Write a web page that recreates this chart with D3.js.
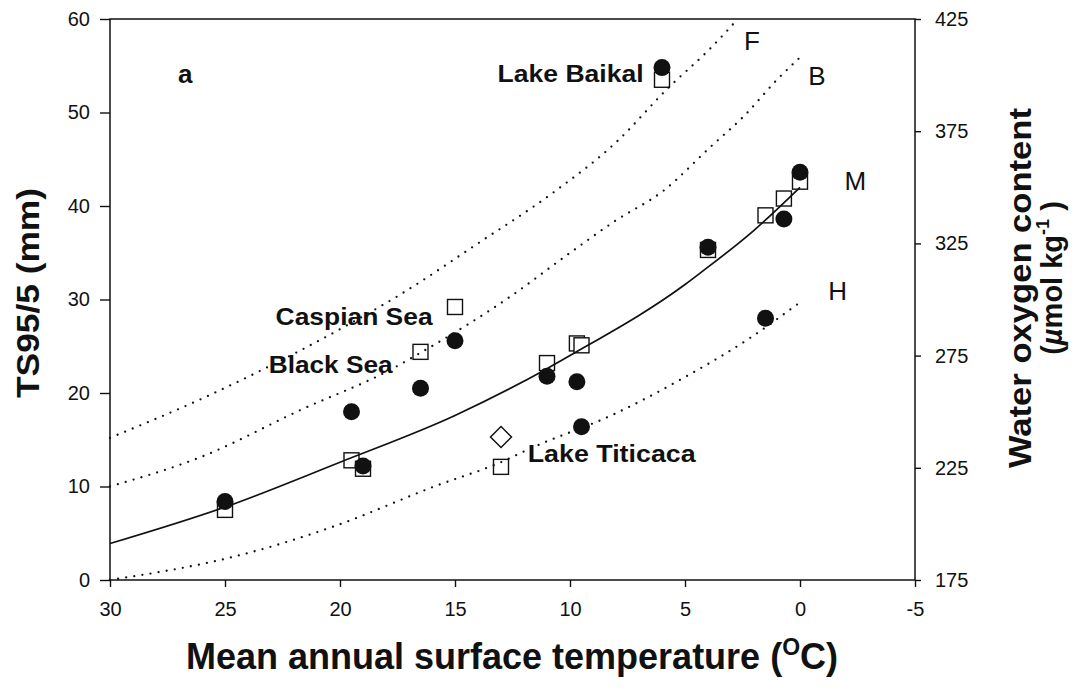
<!DOCTYPE html>
<html>
<head>
<meta charset="utf-8">
<script src="https://cdn.jsdelivr.net/npm/d3@7"></script>
<style>
  html, body { margin: 0; padding: 0; background: #fff; }
  svg { display: block; }
  text { font-family: "Liberation Sans", Arial, Helvetica, sans-serif; fill: #111; }
</style>
</head>
<body>
<svg id="chart" width="1086" height="700"></svg>
<script>
// ---------------- data ----------------
const xTicks = [30, 25, 20, 15, 10, 5, 0, -5];
const yTicks = [0, 10, 20, 30, 40, 50, 60];
const oxyTicks = [175, 225, 275, 325, 375, 425];

// open squares (temperature °C, TS95/5 mm)
const squareT = [25, 19.5, 19, 16.5, 15, 13, 11, 9.7, 9.5, 6, 4, 1.5, 0.7, 0];
const squareV = [7.5, 12.8, 11.9, 24.4, 29.2, 12.1, 23.2, 25.3, 25.1, 53.5, 35.3, 39.0, 40.8, 42.6];

// filled circles
const circleT = [25, 19.5, 19, 16.5, 15, 11, 9.7, 9.5, 6, 4, 1.5, 0.7, 0];
const circleV = [8.4, 18.0, 12.2, 20.5, 25.6, 21.8, 21.2, 16.4, 54.8, 35.6, 28.0, 38.6, 43.6];

// open diamond (Lake Titicaca)
const diamondT = [13];
const diamondV = [15.3];

// curves
const curveM_T = [30, 25, 20, 15, 11, 10, 5, 4.3, 2, 0];
const curveM_V = [3.9, 7.8, 12.6, 17.6, 22.6, 24.0, 31.6, 32.9, 37.4, 42.0];

const curveF_T = [30, 26, 22, 19.5, 17.4, 14, 10.75, 8, 5.7, 4, 2.7];
const curveF_V = [15.2, 19.4, 24.2, 27.5, 30.5, 36.0, 41.4, 46.8, 52.7, 56.6, 60];

const curveB_T = [30, 26, 21.7, 17.8, 16.5, 12.6, 10.1, 8.1, 5.9, 3.9, 2.4, 1.0, 0];
const curveB_V = [10.0, 13.2, 18.2, 22.5, 24.3, 30.3, 34.8, 38.3, 41.7, 46.3, 49.7, 53.5, 55.9];

const curveH_T = [30, 24.6, 20.3, 15.9, 13, 11.6, 8.2, 5, 2.1, 0];
const curveH_V = [0.0, 2.5, 5.7, 10.0, 12.6, 14.2, 17.6, 21.7, 26.0, 29.7];

// annotations
const lakeNames = ["Lake Baikal", "Caspian Sea", "Black Sea", "Lake Titicaca"];
const lakeT = [6.8, 22.8, 23.1, 11.84];
const lakeV = [53.3, 27.3, 22.1, 12.6];
const curveNames = ["F", "B", "M", "H"];
const curveNameT = [2.43, -0.36, -1.93, -1.23];
const curveNameV = [56.7, 52.9, 41.7, 29.9];

// ---------------- drawing ----------------
const svg = d3.select("#chart");
const x = d3.scaleLinear().domain([30, -5]).range([110, 915]);
const y = d3.scaleLinear().domain([0, 60]).range([580, 19]);
const yR = d3.scaleLinear().domain([175, 425]).range([580, 19]);

// axes
const gx = svg.append("g").attr("transform", "translate(0,580)")
  .call(d3.axisBottom(x).tickValues(xTicks).tickSize(7).tickPadding(15).tickFormat(d => String(d)));
const gy = svg.append("g").attr("transform", "translate(110,0)")
  .call(d3.axisLeft(y).tickValues(yTicks).tickSize(10).tickPadding(10));
const gr = svg.append("g").attr("transform", "translate(915,0)")
  .call(d3.axisRight(yR).tickValues(oxyTicks).tickSize(6).tickPadding(14));
[gx, gy, gr].forEach(g => {
  g.select(".domain").remove();
  g.selectAll(".tick line").attr("stroke", "#111").attr("stroke-width", 1.4);
  g.selectAll(".tick text").attr("font-size", 20).attr("fill", "#111")
    .attr("font-family", "'Liberation Sans', Arial, sans-serif");
});

// frame
svg.append("rect").attr("x", x(30)).attr("y", y(60))
  .attr("width", x(-5) - x(30)).attr("height", y(0) - y(60))
  .attr("fill", "none").attr("stroke", "#111").attr("stroke-width", 1.5);

const line = d3.line().x(d => x(d[0])).y(d => y(d[1])).curve(d3.curveMonotoneX);
const zip = (a, b) => a.map((v, i) => [v, b[i]]);

// squares (under lines)
const sq = 15;
svg.append("g").selectAll("rect").data(zip(squareT, squareV)).join("rect")
  .attr("x", d => x(d[0]) - sq / 2).attr("y", d => y(d[1]) - sq / 2)
  .attr("width", sq).attr("height", sq)
  .attr("fill", "#fff").attr("stroke", "#111").attr("stroke-width", 1.4);

// diamond
svg.append("g").selectAll("path").data(zip(diamondT, diamondV)).join("path")
  .attr("d", d => {
    const cx = x(d[0]), cy = y(d[1]), r = 10.5;
    return `M${cx},${cy - r}L${cx + r},${cy}L${cx},${cy + r}L${cx - r},${cy}Z`;
  })
  .attr("fill", "#fff").attr("stroke", "#111").attr("stroke-width", 1.5);

// dotted curves
[[curveF_T, curveF_V], [curveB_T, curveB_V], [curveH_T, curveH_V]].forEach(([t, v]) => {
  svg.append("path").datum(zip(t, v)).attr("d", line)
    .attr("fill", "none").attr("stroke", "#111").attr("stroke-width", 2.3)
    .attr("stroke-linecap", "round").attr("stroke-dasharray", "0 8.2");
});
// solid curve M
svg.append("path").datum(zip(curveM_T, curveM_V)).attr("d", line)
  .attr("fill", "none").attr("stroke", "#111").attr("stroke-width", 1.7);

// circles
svg.append("g").selectAll("circle").data(zip(circleT, circleV)).join("circle")
  .attr("cx", d => x(d[0])).attr("cy", d => y(d[1])).attr("r", 8.5)
  .attr("fill", "#111");

// lake labels
const anchors = ["end", "start", "start", "start"];
const lens = [146, 157, 124, 168];
lakeNames.forEach((n, i) => {
  svg.append("text").attr("x", x(lakeT[i])).attr("y", y(lakeV[i]))
    .attr("text-anchor", anchors[i]).attr("font-size", 24).attr("font-weight", "bold")
    .attr("textLength", lens[i]).attr("lengthAdjust", "spacingAndGlyphs")
    .text(n);
});
// curve names
curveNames.forEach((n, i) => {
  svg.append("text").attr("x", x(curveNameT[i])).attr("y", y(curveNameV[i]))
    .attr("font-size", 26).text(n);
});
// panel letter
svg.append("text").attr("x", x(27.04)).attr("y", y(53.2))
  .attr("font-size", 26).attr("font-weight", "bold").text("a");

// x label
const xl = svg.append("text").attr("x", 512).attr("y", 669).attr("text-anchor", "middle")
  .attr("font-size", 36).attr("font-weight", "bold");
xl.append("tspan").text("Mean annual surface temperature (");
xl.append("tspan").attr("font-size", 23).attr("dy", -14).text("O");
xl.append("tspan").attr("dy", 14).text("C)");

// left y label
svg.append("text").attr("transform", "translate(39,293) rotate(-90)")
  .attr("text-anchor", "middle").attr("font-size", 31).attr("font-weight", "bold")
  .attr("textLength", 210).attr("lengthAdjust", "spacingAndGlyphs")
  .text("TS95/5 (mm)");

// right y label
svg.append("text").attr("transform", "translate(1031,288) rotate(-90)")
  .attr("text-anchor", "middle").attr("font-size", 31).attr("font-weight", "bold")
  .attr("textLength", 360).attr("lengthAdjust", "spacingAndGlyphs")
  .text("Water oxygen content");
const r2 = svg.append("text").attr("transform", "translate(1062,278) rotate(-90)")
  .attr("text-anchor", "middle").attr("font-size", 29).attr("font-weight", "bold");
r2.append("tspan").text("(");
r2.append("tspan").attr("font-style", "italic").text("\u00B5");
r2.append("tspan").text("mol kg");
r2.append("tspan").attr("font-size", 18).attr("dy", -13).text("-1");
r2.append("tspan").attr("dy", 13).text(" )");
</script>
</body>
</html>
